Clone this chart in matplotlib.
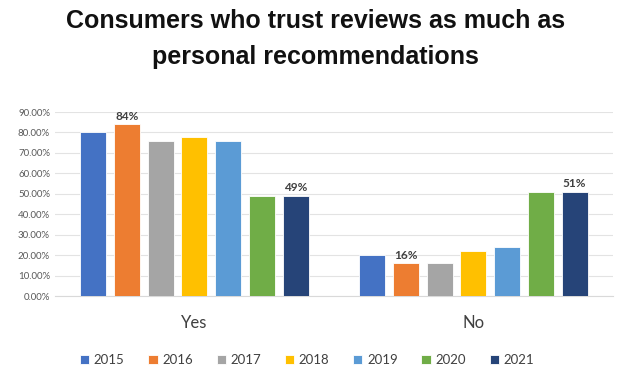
import numpy as np
import matplotlib.pyplot as plt

# Daten
categories = ['Yes', 'No']
years = ['2015', '2016', '2017', '2018', '2019', '2020', '2021']
yes_vals = [80, 84, 76, 78, 76, 49, 49]
no_vals = [20, 16, 16, 22, 24, 51, 51]
colors = ['#4472C4', '#ED7D31', '#A5A5A5', '#FFC000', '#5B9BD5', '#70AD47', '#264478']
# welche Balken beschriftet werden: (Kategorie, Jahr)
labelled = [(0, 1), (0, 6), (1, 1), (1, 6)]

plt.rcParams['font.family'] = ['Lato', 'DejaVu Sans']

fig = plt.figure(figsize=(6.24, 3.73), dpi=100)
ax = fig.add_axes([0.088, 0.2064, 0.894, 0.4933])

x = np.arange(len(categories))
pitch = 0.121
width = 0.093
values = np.array([yes_vals, no_vals])
for i, year in enumerate(years):
    xs = x + (i - 3) * pitch
    ax.bar(xs, values[:, i], width, color=colors[i], label=year,
           edgecolor='white', linewidth=0.6, zorder=3)

for c, i in labelled:
    ax.text(x[c] + (i - 3) * pitch, values[c, i] + 1.2, f'{values[c, i]}%',
            ha='center', va='bottom', fontsize=8.5, fontweight='bold', color='#404040')

ax.set_xlim(-0.5, 1.5)
ax.set_ylim(0, 90)
ax.set_yticks(np.arange(0, 91, 10))
ax.set_yticklabels([f'{v:.2f}%' for v in np.arange(0, 91, 10)], fontsize=7, color='#595959')
ax.set_xticks(x)
ax.set_xticklabels(categories, fontsize=12, color='#404040')
ax.tick_params(axis='both', length=0)
ax.tick_params(axis='x', pad=14)
ax.grid(axis='y', color='#e3e3e3', linewidth=0.8, zorder=0)
for s in ['top', 'right', 'left']:
    ax.spines[s].set_visible(False)
ax.spines['bottom'].set_color('#d9d9d9')

fig.text(0.505, 0.975, 'Consumers who trust reviews as much as\npersonal recommendations',
         ha='center', va='top', fontsize=18, fontweight='bold', linespacing=1.6,
         color='#111111', family=['Liberation Sans', 'DejaVu Sans'])

fig.legend(loc='center', bbox_to_anchor=(0.492, 0.035), ncol=7, frameon=False,
           fontsize=9.5, handlelength=0.7, handleheight=0.7, handletextpad=0.35,
           columnspacing=1.8, labelcolor='#404040')

plt.savefig('out.png', dpi=100)
